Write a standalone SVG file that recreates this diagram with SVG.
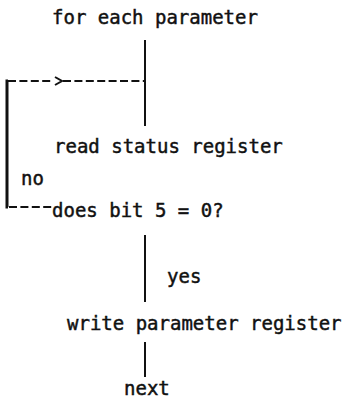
<svg xmlns="http://www.w3.org/2000/svg" width="348" height="417" viewBox="0 0 348 417">
<style>
text{font-family:"DejaVu Sans Mono","Liberation Mono",monospace;font-size:19px;fill:#111;stroke:#111;stroke-width:0.45;}
.ln{stroke:#111;stroke-width:2;fill:none;}
.thick{stroke:#111;stroke-width:3;fill:none;}
.dash{stroke:#111;stroke-width:2;fill:none;stroke-dasharray:8 3.4;}
</style>
<rect width="348" height="417" fill="#fff"/>
<g id="connectors">
<line class="ln" x1="145" y1="40" x2="145" y2="126"/>
<line class="dash" x1="8" y1="81" x2="53" y2="81"/>
<polyline class="ln" points="55,77 62,81 55,85"/>
<line class="dash" x1="63" y1="81" x2="144" y2="81"/>
<polyline class="thick" points="8,81 7,81 7,207 8,207"/>
<line class="dash" x1="9" y1="207" x2="53" y2="207"/>
<line class="ln" x1="145" y1="235" x2="145" y2="302"/>
<line class="ln" x1="145" y1="342" x2="145" y2="377"/>
</g>
<g id="start"><text x="52" y="24">for each parameter</text></g>
<g id="read"><text x="54" y="153">read status register</text></g>
<g id="no"><text x="21" y="185">no</text></g>
<g id="test"><text x="52" y="217">does bit 5 = 0?</text></g>
<g id="yes"><text x="167" y="283">yes</text></g>
<g id="write"><text x="67" y="330">write parameter register</text></g>
<g id="next"><text x="124" y="395">next</text></g>
</svg>
